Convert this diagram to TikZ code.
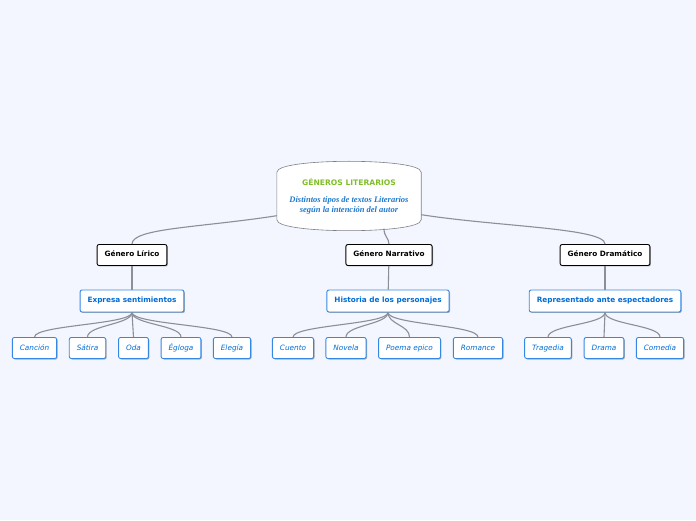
\documentclass[tikz,border=0pt]{standalone}
\usepackage{fontspec}
\setmainfont{DejaVu Sans}
\newfontfamily\subfont{Liberation Serif}
\usepackage{tikz}
\usetikzlibrary{shadows, calc}
\definecolor{mbg}{RGB}{243,246,254}
\definecolor{mgray}{RGB}{140,142,152}
\definecolor{mblue}{RGB}{52,136,228}
\definecolor{mtext}{RGB}{0,108,214}
\definecolor{mgreen}{RGB}{128,190,40}
\definecolor{msub}{RGB}{30,120,205}

\begin{document}
\begin{tikzpicture}[
  x=1pt,y=1pt,
  font=\fontsize{7.3}{9}\selectfont,
  rootbox/.style={minimum width=144pt,minimum height=69pt,inner sep=0pt,align=center},
  rootline/.style={draw=mgray!90!black,fill=white,line width=0.6pt},
  genre/.style={draw=black,fill=white,line width=0.9pt,rounded corners=2pt,
                minimum height=21pt,inner xsep=7.5pt,text height=5.6pt,text depth=1.6pt,
                font=\fontsize{7.3}{9}\selectfont\bfseries,
                drop shadow={shadow xshift=1pt,shadow yshift=-1pt,fill=black,opacity=0.3}},
  idea/.style={draw=mblue,fill=white,line width=0.9pt,rounded corners=2pt,text=mtext,
               minimum height=22pt,inner xsep=7.5pt,text height=5.6pt,text depth=1.6pt,
               font=\fontsize{7.3}{9}\selectfont\bfseries,
               drop shadow={shadow xshift=1pt,shadow yshift=-1pt,fill=black,opacity=0.3}},
  leaf/.style={draw=mblue,fill=white,line width=0.9pt,rounded corners=2pt,text=mtext,
               minimum height=21pt,inner xsep=7.5pt,text height=5.6pt,text depth=1.6pt,
               font=\fontsize{7.3}{9}\selectfont\itshape,
               drop shadow={shadow xshift=1pt,shadow yshift=-1pt,fill=black,opacity=0.3}},
  conn/.style={draw=mgray,line width=1.1pt}
]
  \fill[mbg] (0,0) rectangle (696,520);
  \useasboundingbox (0,0) rectangle (696,520);

  % central topic
  \node[rootbox] (root) at (349,324) {};
  \draw[rootline] ($(root.north west)+(0,-11)$)
      .. controls ($(root.north west)+(0,-3)$) and ($(root.north west)+(40,0)$) .. (root.north)
      .. controls ($(root.north east)+(-40,0)$) and ($(root.north east)+(0,-3)$) .. ($(root.north east)+(0,-11)$)
    -- ($(root.south east)+(0,11)$)
      .. controls ($(root.south east)+(0,3)$) and ($(root.south east)+(-40,0)$) .. (root.south)
      .. controls ($(root.south west)+(40,0)$) and ($(root.south west)+(0,3)$) .. ($(root.south west)+(0,11)$)
    -- cycle;
  \node[align=center] (title) at (349,338) {\textcolor{mgreen}{\fontsize{7.6}{9}\selectfont\bfseries GÉNEROS LITERARIOS}};
  \node[align=center,text=msub,font=\fontsize{8.5}{10}\selectfont\subfont\bfseries\itshape] (sub) at (349,315)
    {Distintos tipos de textos Literarios\\según la intención del autor};

  % genres
  \node[genre] (lir) at (132,265) {Género Lírico};
  \node[genre] (nar) at (389,265) {Género Narrativo};
  \node[genre] (dra) at (605,265) {Género Dramático};

  \node[idea] (expr) at (132,219) {Expresa sentimientos};
  \node[idea] (hist) at (388,219) {Historia de los personajes};
  \node[idea] (repr) at (605,219) {Representado ante espectadores};

  % leaves
  \node[leaf] (canc) at (34.5,172) {Canción};
  \node[leaf] (sati) at (87.5,172) {Sátira};
  \node[leaf] (oda)  at (133.5,172) {Oda};
  \node[leaf] (eglo) at (181,172) {Égloga};
  \node[leaf] (eleg) at (232,172) {Elegía};
  \node[leaf] (cuen) at (293,172) {Cuento};
  \node[leaf] (nove) at (346,172) {Novela};
  \node[leaf] (poem) at (409.5,172) {Poema epico};
  \node[leaf] (roma) at (478,172) {Romance};
  \node[leaf] (trag) at (548,172) {Tragedia};
  \node[leaf] (dram) at (604,172) {Drama};
  \node[leaf] (come) at (660,172) {Comedia};

  \draw[conn] ([yshift=15pt]root.south west) .. controls +(-77,-12) and +(0,16) .. (lir.north);
  \draw[conn] ([xshift=35pt,yshift=2pt]root.south) .. controls +(0,-8) and +(0,6) .. (nar.north);
  \draw[conn] ([yshift=16pt]root.south east) .. controls +(77,-12) and +(0,16) .. (dra.north);

  \draw[conn] (lir) -- (expr);
  \draw[conn] (nar) -- (hist);
  \draw[conn] (dra) -- (repr);

  \draw[conn] (expr.south) .. controls +(0,-12) and +(0,12) .. (canc.north);
  \draw[conn] (expr.south) .. controls +(0,-12) and +(0,12) .. (sati.north);
  \draw[conn] (expr.south) .. controls +(0,-12) and +(0,12) .. (oda.north);
  \draw[conn] (expr.south) .. controls +(0,-12) and +(0,12) .. (eglo.north);
  \draw[conn] (expr.south) .. controls +(0,-12) and +(0,12) .. (eleg.north);
  \draw[conn] (hist.south) .. controls +(0,-12) and +(0,12) .. (cuen.north);
  \draw[conn] (hist.south) .. controls +(0,-12) and +(0,12) .. (nove.north);
  \draw[conn] (hist.south) .. controls +(0,-12) and +(0,12) .. (poem.north);
  \draw[conn] (hist.south) .. controls +(0,-12) and +(0,12) .. (roma.north);
  \draw[conn] (repr.south) .. controls +(0,-12) and +(0,12) .. (trag.north);
  \draw[conn] (repr.south) .. controls +(0,-12) and +(0,12) .. (dram.north);
  \draw[conn] (repr.south) .. controls +(0,-12) and +(0,12) .. (come.north);
\end{tikzpicture}
\end{document}
